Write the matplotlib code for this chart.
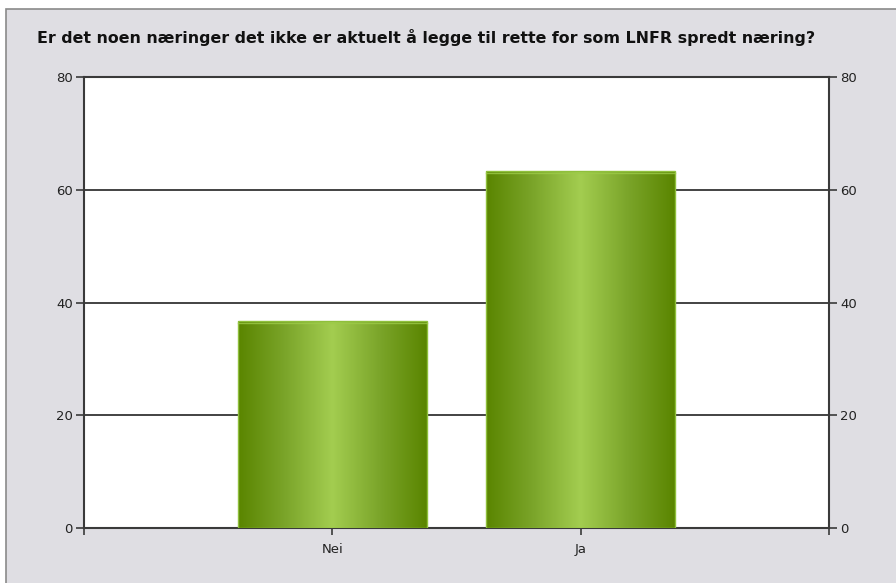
import matplotlib
matplotlib.use("Agg")
import matplotlib.pyplot as plt
import numpy as np
from matplotlib.patches import Rectangle
from matplotlib.colors import LinearSegmentedColormap

categories = ["Nei", "Ja"]
values = [36.7, 63.3]
yticks = [0, 20, 40, 60, 80]
title = "Er det noen næringer det ikke er aktuelt å legge til rette for som LNFR spredt næring?"

W, H = 896, 583
fig = plt.figure(figsize=(W / 100, H / 100), dpi=100)
fig.patch.set_facecolor("white")

# panel background with border
fig.patches.append(Rectangle((6 / W, -0.1), 1.2, (H - 9) / H + 0.1, transform=fig.transFigure,
                             facecolor="#dfdee3", edgecolor="#8a8a8a", linewidth=1.2, zorder=-10))

ax = fig.add_axes([84 / W, (H - 528) / H, (829 - 84) / W, (528 - 77) / H])
ax.set_facecolor("white")

x = np.arange(len(categories))
bars = ax.bar(x, values, width=0.76, color="#7aa62a", linewidth=0, zorder=3)

cmap = LinearSegmentedColormap.from_list("g", ["#5a8500", "#7ba52a", "#a3cd50", "#7ba52a", "#5a8500"])
grad = np.linspace(0, 1, 256).reshape(1, -1)
for b in bars:
    im = ax.imshow(grad, cmap=cmap, aspect="auto", zorder=4,
                   extent=[b.get_x(), b.get_x() + b.get_width(), 0, b.get_height()])
    im.set_clip_path(b)
    ax.add_patch(Rectangle((b.get_x(), 0), b.get_width(), b.get_height(), fill=False,
                           edgecolor="#8fc03c", linewidth=1.0, zorder=5))
    ax.plot([b.get_x(), b.get_x() + b.get_width()], [b.get_height() - 0.3] * 2,
            color="#9ccb48", linewidth=1.0, zorder=5, alpha=0.8)

ax.set_xlim(-1, 2)
ax.set_ylim(0, 80)
ax.set_xticks([-1] + list(x) + [2])
ax.set_xticklabels([""] + categories + [""])
ax.set_yticks(yticks)
ax.yaxis.grid(True, color="#222222", linewidth=1.2, zorder=1)
ax.set_axisbelow(True)

for s in ax.spines.values():
    s.set_color("#3a3a3a")
    s.set_linewidth(1.5)

ax.tick_params(axis="y", which="both", left=True, right=True, labelleft=True, labelright=True,
               length=6, width=1.2, color="#3a3a3a", labelsize=9.5, labelcolor="#222222", pad=2)
ax.tick_params(axis="x", length=5, width=1.2, color="#3a3a3a", labelsize=9.5, labelcolor="#222222", pad=6)

fig.text(37 / W, 1 - 37 / H, title, fontsize=11.4, fontweight="bold", color="#111111",
         ha="left", va="center", family="DejaVu Sans")

fig.savefig("out.png", dpi=100, facecolor=fig.get_facecolor())
